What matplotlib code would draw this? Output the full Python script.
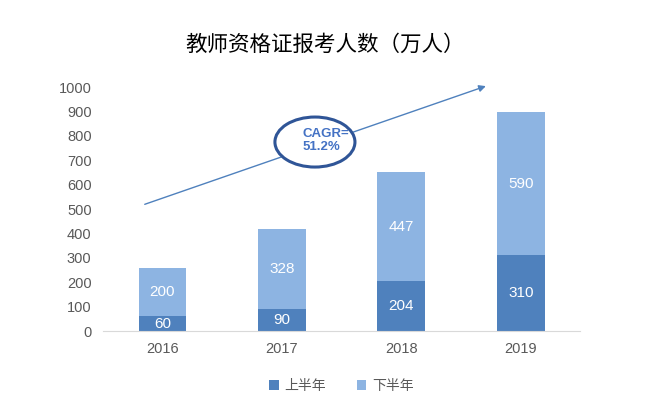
import matplotlib
matplotlib.use("Agg")
import matplotlib.pyplot as plt
from matplotlib.patches import Ellipse

plt.rcParams['font.family'] = ['Noto Sans CJK SC', 'DejaVu Sans']

years = ["2016", "2017", "2018", "2019"]
first_half = [60, 90, 204, 310]
second_half = [200, 328, 447, 590]
yticks = [0, 100, 200, 300, 400, 500, 600, 700, 800, 900, 1000]

c1 = "#4F81BD"
c2 = "#8DB4E2"

fig = plt.figure(figsize=(6.5, 4.17), dpi=100)
ax = fig.add_axes([0.158, 0.206, 0.735, 0.585])

x = list(range(len(years)))
w = 0.40
ax.bar(x, first_half, w, color=c1, label="上半年")
ax.bar(x, second_half, w, bottom=first_half, color=c2, label="下半年")

for i in x:
    ax.text(i, first_half[i] / 2, str(first_half[i]), ha="center", va="center",
            color="white", fontsize=11, family=['Liberation Sans', 'DejaVu Sans'])
    ax.text(i, first_half[i] + second_half[i] / 2, str(second_half[i]), ha="center",
            va="center", color="white", fontsize=11, family=['Liberation Sans', 'DejaVu Sans'])

ax.set_xlim(-0.5, 3.5)
ax.set_ylim(0, 1000)
ax.set_yticks(yticks)
ax.set_xticks(x)
ax.set_xticklabels(years)
for lab in ax.get_xticklabels() + ax.get_yticklabels():
    lab.set_family(['Liberation Sans', 'DejaVu Sans'])
    lab.set_fontsize(10.5)
    lab.set_color("#595959")
ax.tick_params(length=0, pad=8)
for s in ["top", "right", "left"]:
    ax.spines[s].set_visible(False)
ax.spines["bottom"].set_color("#D9D9D9")

# growth arrow
ax.annotate("", xy=(2.73, 1008), xytext=(-0.17, 516), annotation_clip=False,
            arrowprops=dict(arrowstyle="-|>", color="#4F81BD", lw=1.0,
                            mutation_scale=10))
ell = Ellipse((1.277, 775), 0.67, 205, facecolor="white", edgecolor="#2F5597",
              lw=2.2, zorder=5, clip_on=False)
ax.add_patch(ell)
ax.text(1.17, 780, "CAGR=\n51.2%", ha="left", va="center", color="#4472C4",
        fontsize=9.5, fontweight="bold", zorder=6, linespacing=1.15,
        family=['Liberation Sans', 'DejaVu Sans'])

fig.text(0.5, 0.892, "教师资格证报考人数（万人）", ha="center", va="center",
         fontsize=15.5, color="black")

leg = fig.legend(loc="center", bbox_to_anchor=(0.525, 0.075), ncol=2, frameon=False,
                 fontsize=10, handlelength=0.7, handleheight=0.7, columnspacing=2.2,
                 handletextpad=0.4)
for t in leg.get_texts():
    t.set_color("#595959")

fig.savefig("out.png", dpi=100)
